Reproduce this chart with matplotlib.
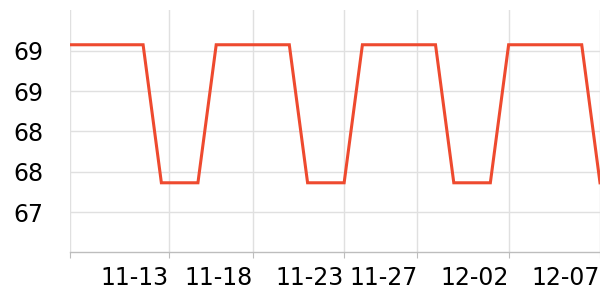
import pandas as pd
import matplotlib
matplotlib.use("Agg")
import matplotlib.pyplot as plt

# ------------------------------------------------------------
# Data (daily values)
# ------------------------------------------------------------
start_date = "2023-11-08"
values = [69.06, 69.06, 69.06, 69.06, 69.06, 67.69, 67.69, 67.69,
          69.06, 69.06, 69.06, 69.06, 69.06, 67.69, 67.69, 67.69,
          69.06, 69.06, 69.06, 69.06, 69.06, 67.69, 67.69, 67.69,
          69.06, 69.06, 69.06, 69.06, 69.06, 67.69]
dates = pd.date_range(start_date, periods=len(values), freq="D")

tick_times = ["2023-11-08 00:00", "2023-11-13 09:30", "2023-11-18 00:00",
              "2023-11-23 00:00", "2023-11-27 00:00", "2023-12-02 00:00",
              "2023-12-07 00:00"]
tick_labels = ["", "11-13", "11-18", "11-23", "11-27", "12-02", "12-07"]
y_ticks = [67.4, 67.8, 68.2, 68.6, 69.0]

# ------------------------------------------------------------
# Plot
# ------------------------------------------------------------
fig = plt.figure(figsize=(6, 3), dpi=100)
ax = fig.add_axes([70 / 600, 47.7 / 300, 530 / 600, 242.3 / 300])

ax.plot(dates, values, color="#ee4a2f", linewidth=2.2, solid_joinstyle="miter")

ax.set_xlim(dates[0], dates[-1])
ax.set_ylim(67.0, 69.405)

ax.set_xticks(pd.to_datetime(tick_times, format="%Y-%m-%d %H:%M"))
ax.set_xticklabels(tick_labels, ha="right")
ax.set_yticks(y_ticks)
ax.set_yticklabels([f"{v:.0f}" for v in y_ticks])

ax.grid(True, color="#e0e0e0", linewidth=1)
ax.set_axisbelow(True)
for side in ["top", "right", "left"]:
    ax.spines[side].set_visible(False)
ax.spines["bottom"].set_color("#bdbdbd")
ax.spines["bottom"].set_linewidth(1)

ax.tick_params(axis="x", length=4, color="#bdbdbd", labelsize=17, pad=6)
ax.tick_params(axis="y", length=0, labelsize=17, pad=19)

fig.savefig("out.png", dpi=100)
